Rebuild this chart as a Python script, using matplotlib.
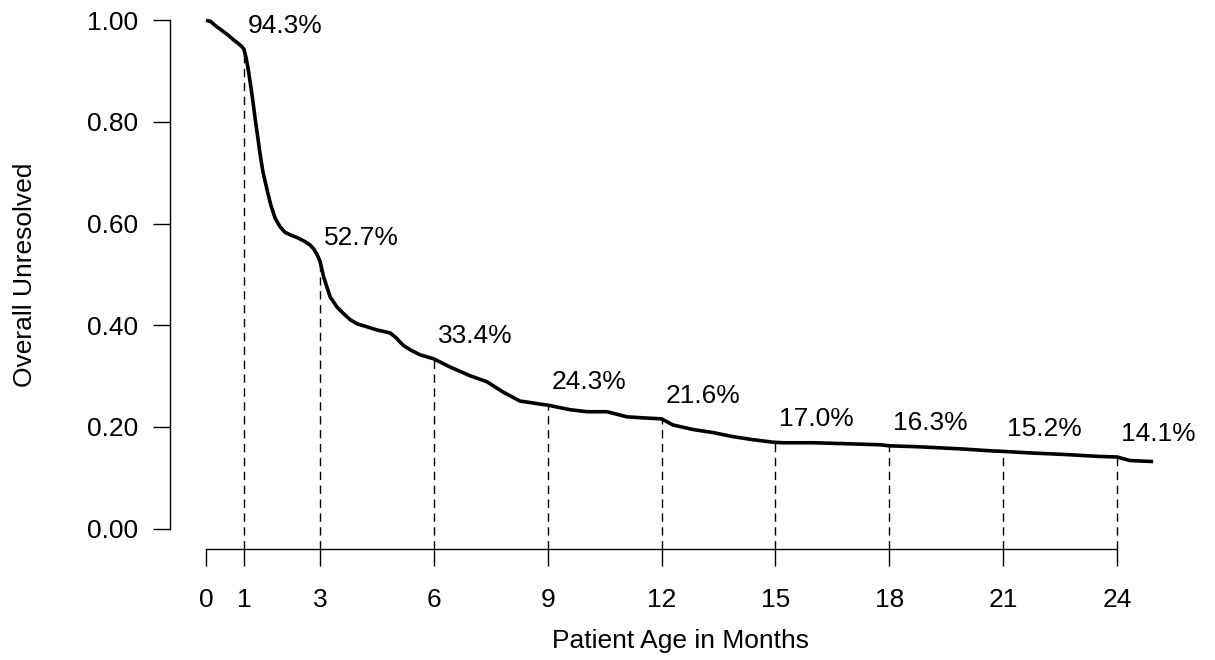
import matplotlib
matplotlib.use("Agg")
import matplotlib.pyplot as plt
import numpy as np

plt.rcParams['font.family'] = ['Liberation Sans', 'DejaVu Sans']

# survival curve (months, fraction unresolved)
months = [0.0, 0.12, 0.24, 0.42, 0.58, 0.72, 0.84, 0.95, 1.0, 1.06, 1.12,
          1.18, 1.24, 1.29, 1.36, 1.42, 1.50, 1.61, 1.71, 1.82, 1.95, 2.08,
          2.25, 2.42, 2.60, 2.74, 2.84, 2.92, 3.0, 3.1, 3.27, 3.45, 3.61,
          3.8, 3.98, 4.2, 4.5, 4.85, 5.0, 5.19, 5.4, 5.64, 6.0, 6.43, 6.95,
          7.4, 7.82, 8.27, 8.55, 8.8, 9.0, 9.59, 10.04, 10.56, 11.09, 11.51,
          12.0, 12.3, 12.83, 13.36, 13.88, 14.41, 14.94, 15.2, 16.0, 16.9,
          17.76, 18.0, 18.8, 19.86, 20.7, 21.0, 21.7, 22.6, 23.55, 24.0,
          24.34, 24.95]
unresolved = [1.0, 0.998, 0.990, 0.980, 0.971, 0.962, 0.955, 0.948, 0.943,
              0.925, 0.900, 0.870, 0.838, 0.809, 0.772, 0.739, 0.702, 0.666,
              0.636, 0.611, 0.594, 0.583, 0.577, 0.572, 0.565, 0.558, 0.550,
              0.540, 0.527, 0.495, 0.456, 0.436, 0.424, 0.411, 0.403, 0.398,
              0.391, 0.385, 0.376, 0.361, 0.351, 0.342, 0.334, 0.318, 0.301,
              0.289, 0.269, 0.251, 0.248, 0.245, 0.243, 0.234, 0.230, 0.230,
              0.220, 0.218, 0.216, 0.204, 0.195, 0.189, 0.181, 0.175, 0.170,
              0.169, 0.169, 0.167, 0.165, 0.163, 0.161, 0.157, 0.153, 0.152,
              0.149, 0.146, 0.142, 0.141, 0.134, 0.132]

# marked time points
mark_months = [1, 3, 6, 9, 12, 15, 18, 21, 24]
mark_values = [0.943, 0.527, 0.334, 0.243, 0.216, 0.170, 0.163, 0.152, 0.141]
mark_labels = ["94.3%", "52.7%", "33.4%", "24.3%", "21.6%", "17.0%", "16.3%",
               "15.2%", "14.1%"]

xticks = [0, 1, 3, 6, 9, 12, 15, 18, 21, 24]
yticks = [0.0, 0.2, 0.4, 0.6, 0.8, 1.0]

fs = 19
fig = plt.figure(figsize=(12.15, 6.6), dpi=100)
ax = fig.add_axes([0.1383, 0.1682, 0.8436, 0.8318])

ax.plot(months, unresolved, color='black', lw=2.6, solid_capstyle='butt',
        solid_joinstyle='round')

for m, v, lab in zip(mark_months, mark_values, mark_labels):
    ax.plot([m, m], [-0.04, v], color='black', lw=1.0, ls=(0, (6, 4)))
    ax.text(m + 0.1, v + 0.045, lab, fontsize=fs, ha='left', va='center')

ax.set_xlim(-1, 26)
ax.set_ylim(-0.04, 1.04)

for s in ['top', 'right']:
    ax.spines[s].set_visible(False)
ax.spines['left'].set_bounds(0, 1)
ax.spines['bottom'].set_bounds(0, 24)
ax.spines['left'].set_position(('data', -0.95))
for s in ['left', 'bottom']:
    ax.spines[s].set_linewidth(1.0)

ax.set_xticks(xticks)
ax.set_xticklabels([str(t) for t in xticks])
ax.set_yticks(yticks)
ax.set_yticklabels(["%.2f" % t for t in yticks])
ax.tick_params(axis='both', direction='out', length=12, width=1.0,
               labelsize=fs)
ax.tick_params(axis='x', pad=16)
ax.tick_params(axis='y', pad=11)

ax.set_xlabel("Patient Age in Months", fontsize=fs, labelpad=12)
ax.set_ylabel("Overall Unresolved", fontsize=fs, labelpad=36)

fig.savefig("out.png", dpi=100)
